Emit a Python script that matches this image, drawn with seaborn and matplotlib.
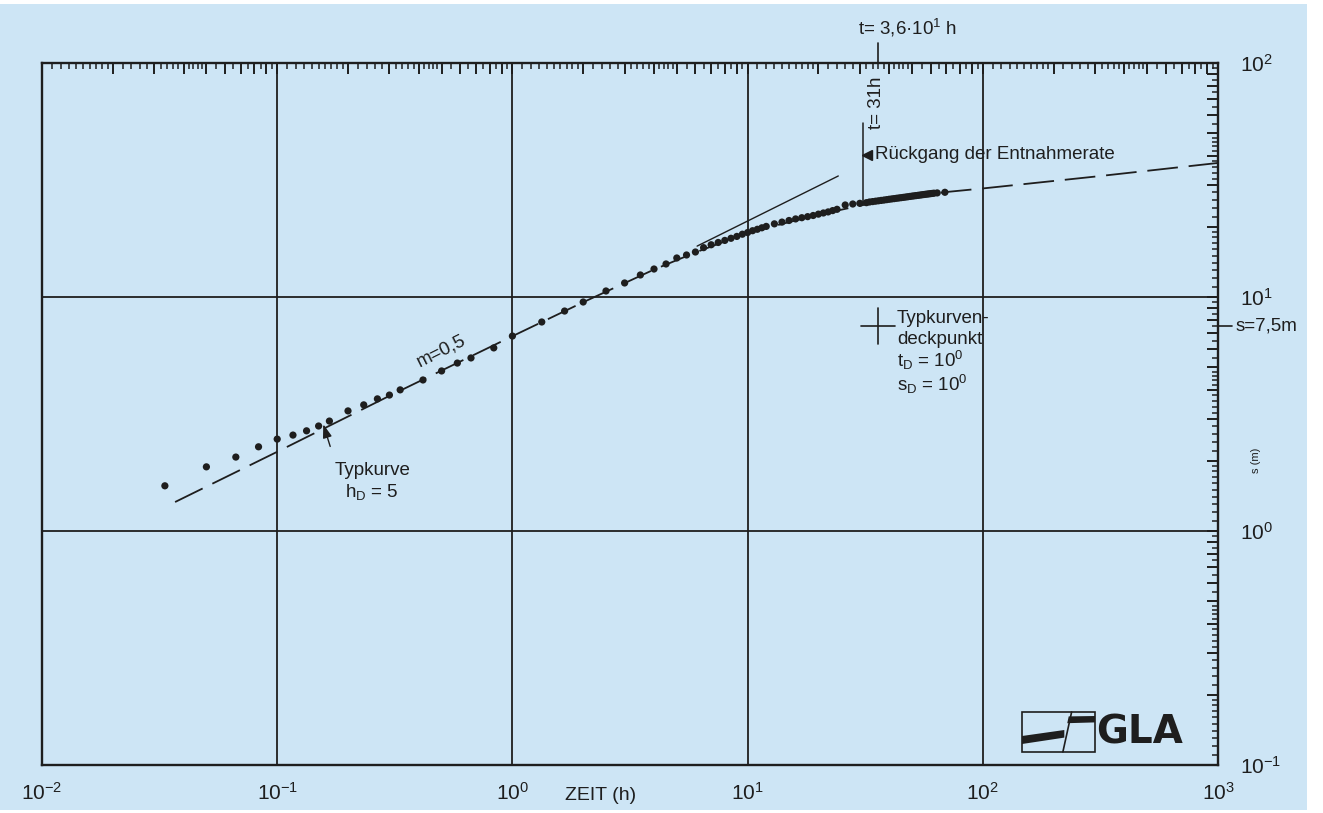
import matplotlib
matplotlib.use("Agg")
import matplotlib.pyplot as plt
import matplotlib.transforms as mtransforms
from matplotlib.patches import Rectangle, Polygon
from matplotlib.ticker import NullFormatter
import seaborn as sns
import numpy as np

# ---------------- data ----------------
zeit_h = [0.0333, 0.05, 0.0667, 0.0833, 0.1, 0.1167, 0.1333, 0.15, 0.1667, 0.2,
          0.2333, 0.2667, 0.3, 0.3333, 0.4167, 0.5, 0.5833, 0.6667, 0.8333, 1.0,
          1.333, 1.667, 2.0, 2.5, 3.0, 3.5, 4.0, 4.5, 5.0, 5.5,
          6.0, 6.5, 7.0, 7.5, 8.0, 8.5, 9.0, 9.5, 10.0, 10.5,
          11.0, 11.5, 12.0, 13.0, 14.0, 15.0, 16.0, 17.0, 18.0, 19.0,
          20.0, 21.0, 22.0, 23.0, 24.0, 26.0, 28.0, 30.0, 32.0, 33.0,
          34.0, 35.0, 36.0, 37.0, 38.0, 39.0, 40.0, 41.0, 42.0, 43.0,
          44.0, 45.0, 46.0, 47.0, 48.0, 49.0, 50.0, 51.0, 52.0, 53.0,
          54.0, 55.0, 56.0, 57.0, 58.0, 59.0, 60.0, 61.0, 62.0, 64.0,
          69.0]
absenkung_m = [1.56, 1.88, 2.07, 2.29, 2.47, 2.57, 2.68, 2.81, 2.95, 3.26,
               3.46, 3.67, 3.81, 4.01, 4.42, 4.83, 5.22, 5.49, 6.06, 6.81,
               7.82, 8.71, 9.52, 10.61, 11.48, 12.42, 13.17, 13.84, 14.68, 15.12,
               15.57, 16.25, 16.72, 17.10, 17.45, 17.82, 18.15, 18.55, 18.85, 19.20,
               19.47, 19.76, 20.03, 20.54, 20.90, 21.23, 21.56, 21.82, 22.05, 22.30,
               22.60, 22.86, 23.10, 23.40, 23.70, 24.73, 24.97, 25.14, 25.30, 25.47,
               25.57, 25.67, 25.77, 25.87, 25.96, 26.06, 26.16, 26.25, 26.33, 26.42,
               26.50, 26.58, 26.66, 26.74, 26.82, 26.90, 26.98, 27.05, 27.12, 27.19,
               27.26, 27.33, 27.40, 27.47, 27.53, 27.59, 27.65, 27.71, 27.77, 27.85,
               28.02]

typkurve_t = [0.0368, 0.1, 0.3, 1.0, 2.0, 4.0, 6.0, 10.0, 20.0, 40.0, 70.0, 100.0, 300.0, 1000.0]
typkurve_s = [1.33, 2.18, 3.78, 6.80, 9.50, 13.1, 15.5, 18.8, 22.5, 26.1, 28.1, 29.1, 32.7, 37.4]

tangente_t = [6.1, 24.3]
tangente_s = [16.5, 32.9]

rueckgang_t = 31.0
rueckgang_s = [25.3, 55.5]

deckpunkt_t = 36.0
deckpunkt_s = 7.5

x_decades = [1e-2, 1e-1, 1e0, 1e1, 1e2, 1e3]
x_labels = ["$10^{-2}$", "$10^{-1}$", "$10^{0}$", "$10^{1}$", "$10^{2}$", "$10^{3}$"]
y_decades = [1e-1, 1e0, 1e1, 1e2]
y_labels = ["$10^{-1}$", "$10^{0}$", "$10^{1}$", "$10^{2}$"]

# ---------------- style ----------------
BG = "#cde5f5"
INK = "#1e1e1e"

sns.set_theme(style="white")
plt.rcParams["font.family"] = ["Liberation Sans", "DejaVu Sans"]
plt.rcParams["mathtext.fontset"] = "custom"
plt.rcParams["mathtext.rm"] = "Liberation Sans"
plt.rcParams["mathtext.it"] = "Liberation Sans"
plt.rcParams["mathtext.default"] = "regular"

W, H = 1323, 813
fig = plt.figure(figsize=(W / 100, H / 100), dpi=100)
fig.patch.set_facecolor("white")
fig.patches.append(Rectangle((0, 3 / H), 1307 / W, 806 / H, transform=fig.transFigure,
                             facecolor=BG, edgecolor="none", zorder=-10))
ax = fig.add_axes([42 / W, 48 / H, 1176 / W, 702 / H])
ax.set_facecolor("none")
ax.set_xscale("log")
ax.set_yscale("log")
ax.set_xlim(1e-2, 1e3)
ax.set_ylim(1e-1, 1e2)

# grid at decades
for d in x_decades[1:-1]:
    ax.axvline(d, color=INK, lw=1.3, zorder=1)
for d in y_decades[1:-1]:
    ax.axhline(d, color=INK, lw=1.3, zorder=1)

for sp in ax.spines.values():
    sp.set_visible(True)
    sp.set_color(INK)
    sp.set_linewidth(1.7)


def graph_ticks(decs):
    major, minor = [], []
    for d in decs[:-1]:
        for k in range(2, 10):
            major.append(d * k)
        sub = [1.1, 1.2, 1.3, 1.4, 1.5, 1.6, 1.7, 1.8, 1.9,
               2.2, 2.4, 2.6, 2.8, 3.2, 3.4, 3.6, 3.8, 4.2, 4.4, 4.6, 4.8,
               5.5, 6.5, 7.5, 8.5, 9.5]
        minor += [d * v for v in sub]
    return major, minor


xmaj, xmin = graph_ticks(x_decades)
ymaj, ymin = graph_ticks(y_decades)
ax.set_xticks(x_decades + xmaj, x_labels + [""] * len(xmaj))
ax.set_xticks(xmin, minor=True)
ax.set_yticks(y_decades + ymaj, y_labels + [""] * len(ymaj))
ax.set_yticks(ymin, minor=True)
ax.xaxis.set_minor_formatter(NullFormatter())
ax.yaxis.set_minor_formatter(NullFormatter())
ax.tick_params(axis="x", which="both", direction="in", top=True, bottom=False,
               labelbottom=True, labeltop=False, color=INK)
ax.tick_params(axis="y", which="both", direction="in", left=False, right=True,
               labelleft=False, labelright=True, color=INK)
ax.tick_params(which="major", length=8, width=1.4)
ax.tick_params(which="minor", length=4.5, width=1.1)
ax.tick_params(axis="x", which="major", pad=12, labelsize=15, labelcolor=INK)
ax.tick_params(axis="y", which="major", pad=16, labelsize=15, labelcolor=INK)

ax.set_xlabel("ZEIT (h)", fontsize=14, color=INK)
ax.xaxis.set_label_coords(0.475, -0.044)
ax.xaxis.label.set_va("center")
ax.set_ylabel("s (m)", fontsize=8, color=INK, rotation=90)
ax.yaxis.set_label_position("right")
ax.yaxis.set_label_coords(1.028, 0.434)

# ---------------- curves and data ----------------
sns.lineplot(x=typkurve_t, y=typkurve_s, ax=ax, color=INK, lw=1.3,
             linestyle=(0, (17, 6)), sort=False, estimator=None, zorder=2)
sns.lineplot(x=tangente_t, y=tangente_s, ax=ax, color=INK, lw=1.0,
             sort=False, estimator=None, zorder=2)
sns.scatterplot(x=zeit_h, y=absenkung_m, ax=ax, s=27, color=INK,
                edgecolor="none", linewidth=0, zorder=3)

# ---------------- annotations ----------------
FS = 13.5
ax.plot([rueckgang_t, rueckgang_t], rueckgang_s, color=INK, lw=1.1, zorder=2)
ax.plot([rueckgang_t * 1.04], [40.5], marker="<", color=INK, ms=7, zorder=3)
ax.text(34.8, 40.5, "Rückgang der Entnahmerate", fontsize=FS, color=INK,
        ha="left", va="center")
ax.text(0.710, 0.943, "t= 31h", rotation=90, fontsize=FS, color=INK,
        ha="center", va="center", transform=ax.transAxes)

blend = mtransforms.blended_transform_factory(ax.transData, ax.transAxes)
ax.plot([deckpunkt_t, deckpunkt_t], [1.002, 1.029], color=INK, lw=1.2,
        transform=blend, clip_on=False)
ax.text(0.694, 1.050, "t= 3,6·10$^1$ h", fontsize=FS, color=INK,
        ha="left", va="center", transform=ax.transAxes)

# match point cross
fx, fy = 10 ** (17 / 235.2), 10 ** (18 / 234)
ax.plot([deckpunkt_t / fx, deckpunkt_t * fx], [deckpunkt_s, deckpunkt_s], color=INK, lw=1.2)
ax.plot([deckpunkt_t, deckpunkt_t], [deckpunkt_s / fy, deckpunkt_s * fy], color=INK, lw=1.2)
ax.text(43.2, 8.13, "Typkurven-", fontsize=FS, color=INK, ha="left", va="center")
ax.text(43.2, 6.55, "deckpunkt", fontsize=FS, color=INK, ha="left", va="center")
ax.text(43.2, 5.33, "t$_D$ = 10$^0$", fontsize=FS, color=INK, ha="left", va="center")
ax.text(43.2, 4.21, "s$_D$ = 10$^0$", fontsize=FS, color=INK, ha="left", va="center")

# s = 7,5 m mark on right axis
blend_y = mtransforms.blended_transform_factory(ax.transAxes, ax.transData)
ax.plot([1.0, 1.012], [deckpunkt_s, deckpunkt_s], color=INK, lw=1.2,
        transform=blend_y, clip_on=False)
ax.text(1.0145, deckpunkt_s, "s=7,5m", fontsize=FS, color=INK, ha="left",
        va="center", transform=blend_y)

# Typkurve label
ax.annotate("Typkurve", xy=(0.157, 2.86), xytext=(0.176, 1.82), fontsize=FS,
            color=INK, ha="left", va="center",
            arrowprops=dict(arrowstyle="-|>,head_length=0.6,head_width=0.2",
                            color=INK, lw=1.0, shrinkA=9, shrinkB=0,
                            relpos=(0.0, 1.0)))
ax.text(0.194, 1.47, "h$_D$ = 5", fontsize=FS, color=INK, ha="left", va="center")
ax.text(0.50, 5.9, "m=0,5", fontsize=FS, color=INK, rotation=26.5,
        rotation_mode="anchor", ha="center", va="center")

# GLA logo
bx0, bx1, by0, by1 = 0.8333, 0.8954, 0.0185, 0.0755
bw, bh = bx1 - bx0, by1 - by0
ax.add_patch(Rectangle((bx0, by0), bw, bh, transform=ax.transAxes, fill=False,
                       edgecolor=INK, lw=1.2))
def P(u, v):
    return (bx0 + u * bw, by0 + v * bh)
ax.add_patch(Polygon([P(0, 0.20), P(0, 0.40), P(0.58, 0.55), P(0.58, 0.36)],
                     closed=True, transform=ax.transAxes, facecolor=INK, edgecolor="none"))
ax.add_patch(Polygon([P(0.62, 0.72), P(1.0, 0.74), P(1.0, 0.90), P(0.64, 0.89)],
                     closed=True, transform=ax.transAxes, facecolor=INK, edgecolor="none"))
ax.plot([bx0 + 0.56 * bw, bx0 + 0.68 * bw], [by0, by1], color=INK, lw=1.2,
        transform=ax.transAxes)
ax.text(0.933, 0.047, "GLA", fontsize=28, fontweight="heavy", color=INK,
        family=["DejaVu Sans"], ha="center", va="center", transform=ax.transAxes)

fig.savefig("out.png", dpi=100, facecolor=fig.get_facecolor())
